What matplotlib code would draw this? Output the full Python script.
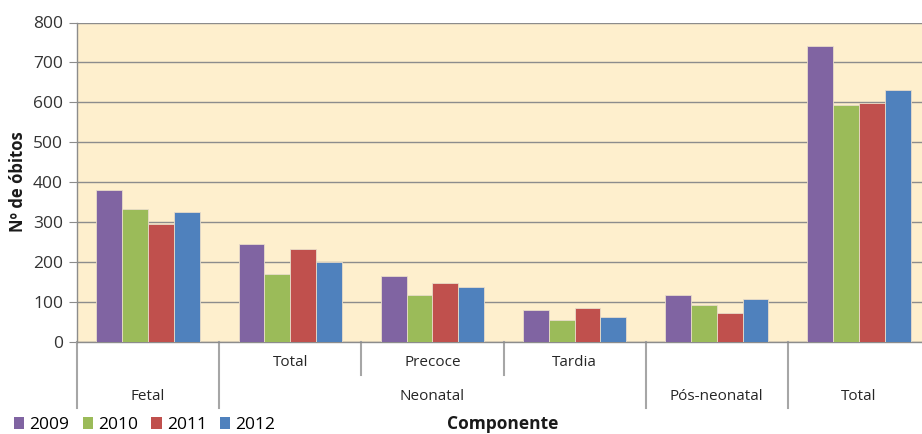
import matplotlib.pyplot as plt
import numpy as np
from matplotlib.patches import Patch

plt.rcParams['font.family'] = ['Open Sans', 'DejaVu Sans']

# data
sub_labels = ["", "Total", "Precoce", "Tardia", "", ""]
top_labels = ["Fetal", "Neonatal", "Pós-neonatal", "Total"]
top_spans = [(0, 0), (1, 3), (4, 4), (5, 5)]
years = ["2009", "2010", "2011", "2012"]
v2009 = [380, 244, 165, 80, 117, 741]
v2010 = [332, 169, 117, 53, 92, 593]
v2011 = [294, 231, 147, 84, 72, 597]
v2012 = [326, 200, 137, 62, 107, 631]
colors = ["#8064A2", "#9BBB59", "#C0504D", "#4F81BD"]

W, H = 922, 434
fig = plt.figure(figsize=(W / 100, H / 100), dpi=100)
ax_l, ax_r, ax_t, ax_b = 77, 930, 22.5, 341.5
ax = fig.add_axes([ax_l / W, 1 - ax_b / H, (ax_r - ax_l) / W, (ax_b - ax_t) / H])
ax.set_facecolor("#FEEFCD")

n = len(v2009)
x = np.arange(n)
w = 0.182
for j, vals in enumerate([v2009, v2010, v2011, v2012]):
    ax.bar(x + (j - 1.5) * w, vals, width=w, color=colors[j],
           edgecolor="#E8DCC8", linewidth=0.6, zorder=3, label=years[j])

ax.set_xlim(-0.5, n - 0.5)
ax.set_ylim(0, 800)
ax.set_yticks(range(0, 801, 100))
ax.yaxis.grid(True, color="#8C8C8C", linewidth=1)
ax.set_axisbelow(True)
ax.tick_params(axis="y", length=6, color="#8C8C8C", labelsize=12.5,
               labelcolor="#333333", pad=4)
ax.set_xticks([])
for s in ["top", "right"]:
    ax.spines[s].set_visible(False)
for s in ["left", "bottom"]:
    ax.spines[s].set_color("#8C8C8C")
    ax.spines[s].set_linewidth(1)

# multi-level category axis
px = 1 / (ax_b - ax_t)
tr = ax.get_xaxis_transform()
long_y = -(408 - ax_b) * px
short_y = -(375 - ax_b) * px
boundaries = np.arange(n + 1) - 0.5
top_bounds = [-0.5, 0.5, 3.5, 4.5, 5.5]
for b in boundaries:
    yb = long_y if b in top_bounds else short_y
    ax.plot([b, b], [0, yb], transform=tr, color="#A6A6A6", lw=1.5,
            clip_on=False)
for i, lab in enumerate(sub_labels):
    if lab:
        ax.text(i, -(363 - ax_b) * px, lab, transform=tr, ha="center",
                va="center", fontsize=11, color="#262626")
for lab, (a, b) in zip(top_labels, top_spans):
    ax.text((a + b) / 2, -(397 - ax_b) * px, lab, transform=tr, ha="center",
            va="center", fontsize=11, color="#262626")

fig.text(503 / W, 1 - 424 / H, "Componente", ha="center", va="center",
         fontsize=12.5, fontweight="bold", color="#1a1a1a")
fig.text(18 / W, 1 - 182 / H, "Nº de óbitos", ha="center", va="center",
         rotation=90, fontsize=12, fontweight="bold", color="#1a1a1a")

handles = [Patch(facecolor=c, edgecolor="none") for c in colors]
fig.legend(handles, years, loc="center left", bbox_to_anchor=(14 / W, 1 - 425 / H),
           ncol=4, frameon=False, fontsize=12.5, handlelength=0.6,
           handleheight=0.7, handletextpad=0.3, columnspacing=0.75,
           borderaxespad=0, borderpad=0)

fig.savefig("out.png", dpi=100)
